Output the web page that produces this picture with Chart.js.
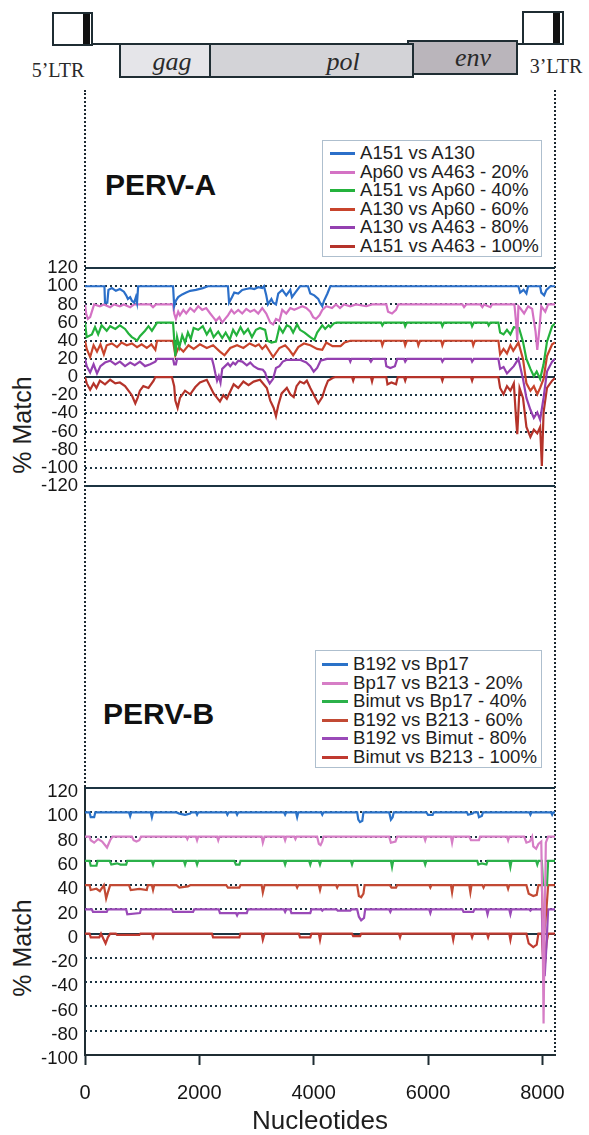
<!DOCTYPE html>
<html>
<head>
<meta charset="utf-8">
<script src="https://cdn.jsdelivr.net/npm/chart.js@4.4.0/dist/chart.umd.min.js"></script>
<style>
  body { margin: 0; background: #fff; }
  #page { position: relative; width: 589px; height: 1135px; overflow: hidden; font-family: Arial, "Liberation Sans", sans-serif; color: #1e1e1e; }
  .gbox { position: absolute; box-sizing: border-box; border: 2px solid #1f2d33; }
  .bar { position: absolute; background: #111; }
  .hline { position: absolute; height: 2px; background: #1f2d33; }
  .serif { position: absolute; font-family: "Liberation Serif", "DejaVu Serif", serif; color: #2a2a2a; white-space: nowrap; transform: translate(-50%, -50%); }
  .gene { font-style: italic; font-size: 26px; }
  .ltr { font-size: 20px; }
  .vdot { position: absolute; width: 0; border-left: 2px dotted #1c2830; }
  .title { position: absolute; font-weight: bold; font-size: 30px; line-height: 30px; color: #111; }
  .ylab { position: absolute; font-size: 25px; white-space: nowrap; transform: translate(-50%, -50%) rotate(-90deg); }
  .legend { position: absolute; box-sizing: border-box; border: 1px solid #aebfce; background: #fff; font-size: 18.6px; line-height: 18.6px; color: #1e1e1e; }
  .item { position: relative; white-space: nowrap; }
  .sw { position: absolute; top: 8px; height: 3px; }
  canvas { position: absolute; left: 0; }
</style>
</head>
<body>
<div id="page">
  <!-- genome map -->
  <div class="vdot" style="left:84px;top:90px;height:700px"></div>
  <div class="vdot" style="left:554px;top:90px;height:966px"></div>

  <div class="gbox" style="left:52px;top:12px;width:41px;height:34px;background:#fff"></div>
  <div class="bar" style="left:83px;top:14px;width:7px;height:30px"></div>
  <div class="hline" style="left:92px;top:43px;width:28px"></div>
  <div class="gbox" style="left:407px;top:40px;width:111px;height:35px;background:#bab5bb"></div>
  <div class="gbox" style="left:119px;top:43px;width:92px;height:35px;background:#e5e5e9"></div>
  <div class="gbox" style="left:209px;top:43px;width:205px;height:35px;background:#d3d3d7"></div>
  <div class="hline" style="left:517px;top:43px;width:6px"></div>
  <div class="gbox" style="left:522px;top:11px;width:42px;height:34px;background:#fff"></div>
  <div class="bar" style="left:553px;top:13px;width:7px;height:30px"></div>
  <div class="serif ltr" style="left:58px;top:70px">5’LTR</div>
  <div class="serif ltr" style="left:556px;top:66px">3’LTR</div>
  <div class="serif gene" style="left:172px;top:62px">gag</div>
  <div class="serif gene" style="left:343px;top:62px">pol</div>
  <div class="serif gene" style="left:473px;top:58px">env</div>

  <div class="title" style="left:105px;top:170px">PERV-A</div>
  <div class="title" style="left:103px;top:699px">PERV-B</div>
  <div class="ylab" style="left:22px;top:425px">% Match</div>
  <div class="ylab" style="left:22px;top:948px">% Match</div>

  <canvas id="chartA" width="589" height="340" style="top:250px"></canvas>
  <canvas id="chartB" width="589" height="365" style="top:770px"></canvas>

  <div id="legendA" class="legend" style="left:322px;top:140px;width:220px;height:117px;padding-top:3px"></div>
  <div id="legendB" class="legend" style="left:315px;top:650px;width:227px;height:118px;padding-top:4px"></div>
</div>

<script>
// axes
const xTicks = [0, 2000, 4000, 6000, 8000];
const xMax = 8220;
const yTicksA = [120, 100, 80, 60, 40, 20, 0, -20, -40, -60, -80, -100, -120];
const yTicksB = [120, 100, 80, 60, 40, 20, 0, -20, -40, -60, -80, -100];
const dottedA = [100, 80, 60, 40, 20, -20, -40, -60, -80, -100];
const solidA = [120, 0, -120];
const dottedB = [100, 80, 60, 40, 20, -20, -40, -60, -80];
const solidB = [120, 0];

const namesA = ['A151 vs A130', 'Ap60 vs A463 - 20%', 'A151 vs Ap60 - 40%', 'A130 vs Ap60 - 60%', 'A130 vs A463 - 80%', 'A151 vs A463 - 100%'];
const namesB = ['B192 vs Bp17', 'Bp17 vs B213 - 20%', 'Bimut vs Bp17 - 40%', 'B192 vs B213 - 60%', 'B192 vs Bimut - 80%', 'Bimut vs B213 - 100%'];
const colorsA = ['#2b6fc9', '#d472c4', '#24b23c', '#c8442c', '#9440b0', '#b5332a'];
const colorsB = ['#2a72c8', '#d67ec6', '#2bb14a', '#c24a34', '#9a4ab8', '#c03a30'];

// PERV-A  [nucleotide, % match as plotted]
const aBlue = [[0,100],[340,100],[350,82],[390,82],[410,96],[470,98],[540,95],[610,97],[680,94],[720,90],[750,86],[790,88],[820,84],[860,82],[890,88],[910,82],[930,100],[1540,100],[1560,78],[1590,84],[1630,88],[1700,91],[1770,93],[1840,95],[1940,96],[2060,98],[2150,100],[2500,100],[2520,82],[2570,88],[2610,93],[2680,92],[2750,96],[2820,97],[2890,98],[2960,97],[3030,99],[3100,98],[3130,100],[3170,90],[3200,80],[3260,86],[3290,82],[3340,80],[3380,92],[3450,96],[3520,90],[3590,96],[3620,88],[3690,94],[3760,100],[3900,100],[3940,92],[4010,90],[4080,86],[4110,82],[4150,78],[4180,84],[4240,92],[4290,100],[7580,100],[7610,93],[7670,96],[7720,92],[7750,100],[7960,100],[7980,93],[8030,90],[8070,96],[8140,100],[8220,100]];
const aPink = [[0,80],[20,70],[50,64],[90,66],[120,72],[160,80],[260,78],[330,80],[440,77],[510,80],[610,78],[680,80],[790,77],[860,80],[1140,80],[1190,77],[1240,80],[1540,80],[1560,70],[1590,64],[1630,72],[1660,68],[1720,74],[1770,70],[1840,76],[1910,72],[1980,78],[2050,74],[2120,76],[2190,70],[2240,66],[2290,62],[2350,66],[2400,60],[2450,64],[2500,68],[2560,74],[2610,70],[2680,74],[2750,70],[2820,75],[2890,72],[2960,74],[3030,70],[3100,76],[3170,70],[3240,60],[3290,58],[3340,64],[3400,62],[3450,74],[3520,70],[3590,76],[3660,74],[3730,76],[3800,78],[3870,76],[3940,72],[3990,66],[4040,64],[4100,68],[4150,74],[4220,78],[4320,76],[4390,80],[4460,76],[4530,80],[4640,78],[4740,80],[4920,78],[5020,80],[5270,80],[5300,72],[5370,70],[5440,74],[5480,80],[6600,80],[6630,77],[6670,80],[6910,80],[6950,77],[6980,80],[7090,77],[7120,80],[7510,80],[7540,60],[7560,40],[7580,78],[7610,76],[7680,70],[7750,78],[7820,75],[7880,50],[7910,30],[7950,55],[7980,78],[8050,72],[8100,80],[8220,80]];
const aGreen = [[0,60],[30,44],[120,47],[175,55],[230,47],[290,57],[380,51],[440,56],[530,53],[610,57],[700,53],[760,48],[820,44],[870,42],[910,40],[960,45],[1050,51],[1110,56],[1170,51],[1230,57],[1260,60],[1540,60],[1580,23],[1610,44],[1650,33],[1700,46],[1750,38],[1800,49],[1850,42],[1900,54],[1980,52],[2060,56],[2130,47],[2190,53],[2250,44],[2330,50],[2400,43],[2460,49],[2530,41],[2590,52],[2650,46],[2720,55],[2780,48],[2850,53],[2920,44],[2990,52],[3060,54],[3150,52],[3190,40],[3260,38],[3340,39],[3400,55],[3460,49],[3530,57],[3590,55],[3640,49],[3710,58],[3760,52],[3840,49],[3900,46],[3940,44],[4010,41],[4060,49],[4150,57],[4200,53],[4260,57],[4290,55],[4350,59],[4400,60],[5180,60],[5200,57],[5230,60],[5580,60],[5600,56],[5630,60],[6230,60],[6250,56],[6280,60],[6750,60],[6770,56],[6800,60],[7040,60],[7060,57],[7090,60],[7230,60],[7260,49],[7320,47],[7380,52],[7440,47],[7500,55],[7590,54],[7660,39],[7720,20],[7790,9],[7850,1],[7900,6],[7960,-2],[8020,14],[8080,39],[8170,56],[8220,59]];
const aRed = [[0,40],[30,31],[90,22],[150,35],[210,28],[270,36],[330,25],[380,35],[470,37],[560,33],[640,38],[730,35],[820,37],[910,33],[990,36],[1080,32],[1160,36],[1230,30],[1260,40],[1540,40],[1580,24],[1640,33],[1720,28],[1810,35],[1900,31],[2010,36],[2130,32],[2240,35],[2360,28],[2440,24],[2540,32],[2660,35],[2770,32],[2880,37],[2980,34],[3040,36],[3100,31],[3160,35],[3240,27],[3290,22],[3400,32],[3500,35],[3560,31],[3640,24],[3730,33],[3830,37],[3940,35],[4060,31],[4150,30],[4220,38],[4330,34],[4470,34],[4540,38],[4640,40],[5180,40],[5200,35],[5230,40],[5580,40],[5600,35],[5630,40],[5810,40],[5830,35],[5860,40],[6230,40],[6250,35],[6280,40],[6770,40],[6790,35],[6820,40],[7230,40],[7260,25],[7320,31],[7380,26],[7440,35],[7490,29],[7580,38],[7660,20],[7720,-7],[7790,-15],[7850,-10],[7910,-19],[7960,-12],[8020,-2],[8080,23],[8170,36],[8220,38]];
const aPurple = [[0,20],[30,12],[90,5],[150,14],[210,4],[270,12],[350,16],[440,18],[530,14],[610,17],[700,12],[790,16],[870,13],[960,17],[1050,12],[1140,14],[1230,17],[1260,20],[1540,20],[1560,14],[1590,14],[1610,20],[2220,20],[2250,13],[2280,4],[2310,-4],[2340,1],[2370,-6],[2400,9],[2450,12],[2500,15],[2540,12],[2590,16],[2630,14],[2680,18],[2750,17],[2830,13],[2890,16],[2950,12],[3030,9],[3110,8],[3150,5],[3180,-1],[3230,-7],[3290,-2],[3340,10],[3400,12],[3460,17],[3530,19],[3760,19],[3870,16],[3940,12],[4000,6],[4060,10],[4120,18],[4230,20],[4620,20],[4640,17],[4660,20],[4970,20],[5000,17],[5030,20],[5250,20],[5270,12],[5340,10],[5420,12],[5460,20],[5580,20],[5600,17],[5630,20],[6230,20],[6250,17],[6280,20],[6750,20],[6770,17],[6800,20],[7230,20],[7260,9],[7320,11],[7380,4],[7440,8],[7500,12],[7580,20],[7660,-2],[7720,-23],[7790,-36],[7850,-45],[7910,-39],[7960,-47],[8020,-23],[8080,6],[8170,17],[8220,20]];
const aDarkRed = [[0,0],[30,-7],[90,-14],[150,-7],[200,-12],[260,-4],[350,-8],[440,-3],[530,-7],[610,-6],[700,-10],[760,-15],[820,-20],[880,-29],[920,-23],[960,-15],[1020,-10],[1110,-12],[1200,-4],[1230,0],[1520,0],[1560,-10],[1580,-26],[1620,-34],[1660,-23],[1750,-15],[1840,-19],[1930,-11],[2010,-6],[2130,-3],[2250,-18],[2310,-23],[2360,-27],[2420,-20],[2480,-24],[2540,-16],[2600,-8],[2680,-12],[2770,-5],[2860,-9],[2950,-5],[3060,-3],[3180,-12],[3240,-26],[3300,-34],[3340,-43],[3380,-31],[3440,-18],[3530,-12],[3590,-19],[3650,-22],[3700,-10],[3760,-5],[3830,-7],[3880,-4],[3940,-12],[4030,-23],[4080,-29],[4150,-22],[4200,-12],[4250,-4],[4330,-1],[4380,0],[4670,0],[4690,-4],[4710,0],[5000,0],[5020,-5],[5040,0],[5270,0],[5290,-8],[5360,-6],[5440,-8],[5470,0],[5580,0],[5600,-4],[5620,0],[6230,0],[6250,-4],[6270,0],[6750,0],[6770,-4],[6790,0],[7230,0],[7260,-12],[7320,-19],[7380,-10],[7440,-15],[7500,-7],[7540,-47],[7560,-63],[7600,-12],[7660,-23],[7720,-55],[7790,-66],[7850,-58],[7910,-62],[7960,-55],[7990,-98],[8020,-39],[8080,-12],[8170,-4],[8220,-1]];

// PERV-B
const bBlue = [[0,100],[80,100],[100,96],[160,96],[180,100],[770,100],[790,97],[810,100],[1150,100],[1170,96],[1190,100],[1600,100],[1650,99],[1750,98],[1840,99],[1860,100],[1940,100],[1960,98],[1980,100],[2470,100],[2490,98],[2510,100],[2640,100],[2660,98],[2680,100],[3480,100],[3500,98],[3520,100],[3690,100],[3710,96],[3730,100],[4130,100],[4150,98],[4170,100],[4760,100],[4780,94],[4810,92],[4850,93],[4870,100],[5320,100],[5350,94],[5380,96],[5400,100],[5970,100],[6000,98],[6080,98],[6100,100],[6680,100],[6700,98],[6780,99],[6800,100],[6870,100],[6890,96],[6940,97],[6960,100],[7770,100],[7790,98],[7810,100],[8150,100],[8170,98],[8190,100],[8220,100]];
const bPink = [[0,80],[80,80],[100,77],[160,75],[230,78],[300,76],[385,71],[440,77],[480,80],[820,80],[850,77],[900,76],[950,77],[980,80],[1770,80],[1790,78],[1810,80],[1940,80],[1960,77],[1980,80],[2310,80],[2330,77],[2350,80],[3090,80],[3110,75],[3140,80],[3480,80],[3500,77],[3520,80],[3660,80],[3680,78],[3700,80],[4060,80],[4090,74],[4120,73],[4150,76],[4170,80],[5320,80],[5350,75],[5430,76],[5460,80],[5930,80],[5950,77],[5970,80],[6400,80],[6420,75],[6440,80],[6720,80],[6750,77],[6890,77],[6910,80],[7380,80],[7400,77],[7420,80],[7680,80],[7720,75],[7780,76],[7820,80],[7840,72],[7890,70],[7930,74],[7980,76],[8000,20],[8020,-74],[8040,10],[8060,75],[8100,80],[8220,80]];
const bGreen = [[0,60],[80,60],[100,56],[200,56],[220,60],[430,60],[460,57],[560,58],[620,57],[720,57],[740,60],[1170,60],[1190,57],[1210,60],[1730,60],[1750,57],[1770,60],[1940,60],[1960,57],[1980,60],[2610,60],[2640,57],[2700,57],[2720,60],[3480,60],[3500,57],[3520,60],[3920,60],[3940,57],[3960,60],[4090,60],[4110,57],[4130,60],[4650,60],[4670,57],[4690,60],[5350,60],[5370,55],[5390,60],[5930,60],[5950,57],[5970,60],[6860,60],[6880,57],[6940,58],[7020,57],[7040,60],[7420,60],[7440,55],[7460,60],[7890,60],[7910,57],[7930,60],[7990,60],[8010,40],[8050,40],[8080,40],[8100,60],[8220,60]];
const bRed = [[0,40],[80,40],[100,36],[200,37],[260,35],[330,40],[370,29],[400,34],[440,40],[770,40],[800,36],[950,37],[1080,36],[1100,40],[1170,40],[1190,36],[1210,40],[1600,40],[1650,38],[1800,39],[1840,40],[2470,40],[2500,38],[2700,38],[2720,40],[3090,40],[3110,34],[3140,40],[3690,40],[3710,38],[3730,40],[4090,40],[4110,36],[4130,40],[4390,40],[4410,38],[4430,40],[4760,40],[4790,31],[4830,30],[4870,33],[4890,40],[5330,40],[5360,38],[5440,38],[5460,40],[6020,40],[6040,38],[6060,40],[6400,40],[6420,34],[6440,40],[6720,40],[6740,34],[6760,40],[6950,40],[6970,38],[6990,40],[7380,40],[7400,37],[7420,40],[7720,40],[7760,33],[7840,31],[7900,32],[7930,40],[7990,40],[8010,10],[8040,5],[8070,20],[8100,40],[8220,40]];
const bPurple = [[0,20],[120,20],[140,18],[380,18],[400,20],[720,20],[740,16],[960,17],[980,20],[1520,20],[1540,18],[1890,18],[1910,20],[2340,20],[2360,17],[2640,17],[2660,15],[2680,17],[2830,17],[2850,20],[3480,20],[3500,18],[3520,20],[3590,20],[3610,17],[3940,17],[3960,20],[4130,20],[4150,19],[4170,20],[4400,20],[4420,19],[4640,19],[4660,20],[4760,20],[4790,14],[4830,11],[4880,13],[4900,20],[5320,20],[5340,18],[5360,20],[6020,20],[6040,17],[6060,20],[6600,20],[6620,18],[6790,18],[6810,20],[7020,20],[7040,16],[7060,20],[7420,20],[7440,16],[7460,20],[7770,20],[7790,19],[7810,20],[7990,20],[8010,-20],[8040,-35],[8070,-10],[8100,20],[8220,20]];
const bDarkRed = [[0,0],[80,0],[100,-3],[250,-3],[280,0],[360,-8],[400,-3],[440,0],[540,0],[560,-1],[950,-1],[970,0],[1170,0],[1190,-3],[1210,0],[2220,0],[2240,-3],[2700,-3],[2720,0],[3090,0],[3110,-5],[3140,0],[3740,0],[3760,-3],[3940,-3],[3960,0],[4090,0],[4110,-5],[4130,0],[4670,0],[4690,-2],[4810,-2],[4830,0],[5490,0],[5510,-3],[5530,0],[6420,0],[6440,-5],[6460,0],[6750,0],[6770,-3],[6790,0],[7030,0],[7050,-3],[7070,0],[7420,0],[7440,-5],[7460,0],[7720,0],[7760,-8],[7840,-11],[7900,-9],[7930,0],[7990,0],[8010,-20],[8040,-27],[8070,-8],[8100,0],[8220,0]];

const seriesA = [aBlue, aPink, aGreen, aRed, aPurple, aDarkRed];
const seriesB = [bBlue, bPink, bGreen, bRed, bPurple, bDarkRed];

Chart.defaults.font.family = 'Arial, "Liberation Sans", sans-serif';
Chart.defaults.color = '#1e1e1e';

// dotted / solid horizontal reference lines
const matchGrid = {
    id: 'matchGrid',
    beforeDatasetsDraw(chart, args, opts) {
        const { ctx, chartArea: a } = chart;
        const y = chart.scales.y;
        ctx.save();
        ctx.strokeStyle = '#1c3442';
        ctx.lineWidth = 1.9;
        ctx.setLineDash([2, 3]);
        opts.dotted.forEach(v => {
            const p = Math.round(y.getPixelForValue(v));
            ctx.beginPath(); ctx.moveTo(a.left, p); ctx.lineTo(a.right, p); ctx.stroke();
        });
        ctx.setLineDash([]);
        ctx.lineWidth = 2;
        opts.solid.forEach(v => {
            const p = Math.round(y.getPixelForValue(v));
            ctx.beginPath(); ctx.moveTo(a.left, p); ctx.lineTo(a.right, p); ctx.stroke();
        });
        ctx.restore();
    }
};

function makeChart(id, names, colors, series, yTicks, dotted, solid, showX) {
    return new Chart(document.getElementById(id), {
        type: 'line',
        data: {
            datasets: series.map((s, i) => ({
                label: names[i],
                data: s.map(([x, y]) => ({ x, y })),
                borderColor: colors[i],
                borderWidth: 2.2,
                pointRadius: 0,
                tension: 0,
                fill: false
            }))
        },
        options: {
            responsive: false,
            animation: false,
            events: [],
            layout: { padding: showX ? { top: 17, right: 34, bottom: 0, left: 0 } : { top: 18, right: 34, bottom: 24, left: 0 } },
            plugins: {
                legend: { display: false },
                tooltip: { enabled: false },
                matchGrid: { dotted, solid }
            },
            scales: {
                x: {
                    type: 'linear', min: 0, max: xMax, display: showX,
                    afterBuildTicks: s => { s.ticks = xTicks.map(v => ({ value: v })); },
                    afterFit: s => { s.height = 80; },
                    ticks: { callback: v => String(v), font: { size: 20 }, color: '#161616', padding: 16, maxRotation: 0, autoSkip: false },
                    grid: { display: true, drawOnChartArea: false, drawTicks: true, tickLength: 10, tickWidth: 2, tickColor: '#1f2d33' },
                    border: { display: true, color: '#1f2d33', width: 2 },
                    title: { display: true, text: 'Nucleotides', font: { size: 26, lineHeight: 1 }, color: '#1e1e1e', padding: { top: 0, bottom: 0 } }
                },
                y: {
                    type: 'linear', min: yTicks[yTicks.length - 1], max: yTicks[0],
                    afterBuildTicks: s => { s.ticks = yTicks.map(v => ({ value: v })); },
                    afterFit: s => { s.width = 85; },
                    ticks: { callback: v => String(v), font: { size: 18.5 }, color: '#161616', padding: 7, autoSkip: false, labelOffset: showX ? 4 : 0 },
                    grid: { display: false, drawTicks: false },
                    border: { display: showX, color: '#1f2d33', width: 2 }
                }
            }
        },
        plugins: [matchGrid]
    });
}

function buildLegend(id, names, colors, swLeft, textLeft, swWidth) {
    document.getElementById(id).innerHTML = names.map((n, i) =>
        `<div class="item" style="padding-left:${textLeft}px"><span class="sw" style="left:${swLeft}px;width:${swWidth}px;background:${colors[i]}"></span>${n}</div>`
    ).join('');
}

makeChart('chartA', namesA, colorsA, seriesA, yTicksA, dottedA, solidA, false);
makeChart('chartB', namesB, colorsB, seriesB, yTicksB, dottedB, solidB, true);
buildLegend('legendA', namesA, colorsA, 7, 37, 25);
buildLegend('legendB', namesB, colorsB, 6, 37, 26);
</script>
</body>
</html>
